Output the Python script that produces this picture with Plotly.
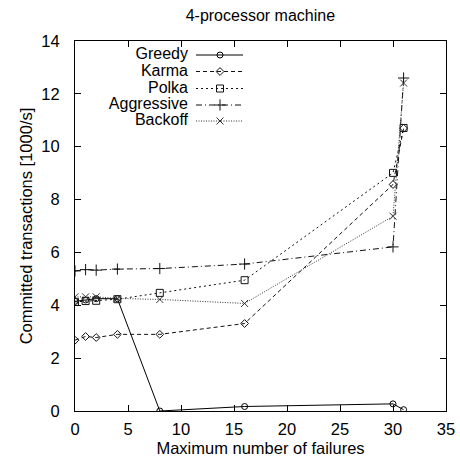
import plotly.graph_objects as go

failures = [0, 1, 2, 4, 8, 16, 30, 31]
series_names = ["Greedy", "Karma", "Polka", "Aggressive", "Backoff"]
greedy = [4.15, 4.2, 4.25, 4.25, 0.0, 0.17, 0.27, 0.05]
karma = [2.68, 2.82, 2.78, 2.9, 2.9, 3.31, 8.57, 10.7]
polka = [4.13, 4.16, 4.17, 4.23, 4.47, 4.95, 9.01, 10.71]
aggressive = [5.3, 5.35, 5.33, 5.37, 5.39, 5.56, 6.21, 12.6]
backoff = [4.32, 4.32, 4.32, 4.26, 4.22, 4.07, 7.37, 12.41]

title = "4-processor machine"
x_title = "Maximum number of failures"
y_title = "Committed transactions [1000/s]"
x_range = [0, 35]
y_range = [0, 14]

values = [greedy, karma, polka, aggressive, backoff]
symbols = ["circle-open", "diamond-open", "square-open", "cross-thin-open", "x-thin-open"]
dashes = ["solid", "4px,3px", "2px,3px", "6px,3px,1px,3px", "1px,1.5px"]
sizes = [6, 6, 7, 8, 7]
colors = ["#000000", "#111111", "#111111", "#111111", "#333333"]

fig = go.Figure()
FONT = "Liberation Sans, Arial, sans-serif"
FS = 16.5
LFS = 16

for name, v, s, d, sz, c in zip(series_names, values, symbols, dashes, sizes, colors):
    fig.add_trace(go.Scatter(
        x=failures, y=v, mode="lines+markers", name=name,
        line=dict(color=c, width=1, dash=d),
        marker=dict(symbol=s, size=sz, color=c, line=dict(color=c, width=1)),
        showlegend=False,
    ))

# custom gnuplot-style legend (text right, sample on the right)
plot_w, plot_h = 371, 370
row_y = [55, 71.5, 88.5, 105, 121]
leg_y = [plot_h - (r - 41) for r in row_y]
for i, (s, d, sz, c) in enumerate(zip(symbols, dashes, sizes, colors)):
    yy = leg_y[i]
    fig.add_trace(go.Scatter(
        x=[121, 168], y=[yy, yy], mode="lines", xaxis="x2", yaxis="y2",
        line=dict(color=c, width=1, dash=d), showlegend=False, hoverinfo="skip"))
    fig.add_trace(go.Scatter(
        x=[145], y=[yy], mode="markers", xaxis="x2", yaxis="y2",
        marker=dict(symbol=s, size=sz, color=c, line=dict(color=c, width=1)),
        showlegend=False, hoverinfo="skip"))
fig.add_trace(go.Scatter(
    x=[113] * len(series_names), y=leg_y, mode="text", text=series_names,
    textposition="middle left", xaxis="x2", yaxis="y2",
    textfont=dict(family=FONT, size=LFS, color="black"),
    showlegend=False, hoverinfo="skip"))

# main axes: labels pushed away with transparent outside ticks
label_axis = dict(
    showgrid=False, zeroline=False, showline=True, linecolor="black", linewidth=1,
    mirror=True, ticks="outside", tickcolor="rgba(0,0,0,0)", automargin=False,
    tickfont=dict(family=FONT, size=FS, color="black"),
)
# overlay axes that draw the inside ticks on all four sides
tick_axis = dict(
    showgrid=False, zeroline=False, showline=False, showticklabels=False,
    mirror="allticks", ticks="inside", ticklen=6, tickcolor="black", fixedrange=True,
    automargin=False,
)

fig.update_layout(
    width=460, height=466,
    margin=dict(l=75, r=14, t=41, b=55, autoexpand=False),
    paper_bgcolor="white", plot_bgcolor="white",
    title=dict(text=title, x=0.566, xanchor="center", y=0.968, yanchor="middle",
               font=dict(family=FONT, size=16, color="black")),
    xaxis=dict(range=x_range, dtick=5, ticklen=3,
               title=dict(text=x_title, standoff=5,
                          font=dict(family=FONT, size=FS, color="black")), **label_axis),
    yaxis=dict(range=y_range, dtick=2, ticklen=11,
               title=dict(text=y_title, standoff=4,
                          font=dict(family=FONT, size=FS, color="black")), **label_axis),
    xaxis2=dict(overlaying="x", range=[0, plot_w], visible=False, fixedrange=True),
    yaxis2=dict(overlaying="y", range=[0, plot_h], visible=False, fixedrange=True),
    xaxis3=dict(overlaying="x", range=x_range, dtick=5, **tick_axis),
    yaxis3=dict(overlaying="y", range=y_range, dtick=2, **tick_axis),
)
fig.add_trace(go.Scatter(x=[None], y=[None], xaxis="x3", yaxis="y3",
                         showlegend=False, hoverinfo="skip"))

fig.write_html("out.html")
